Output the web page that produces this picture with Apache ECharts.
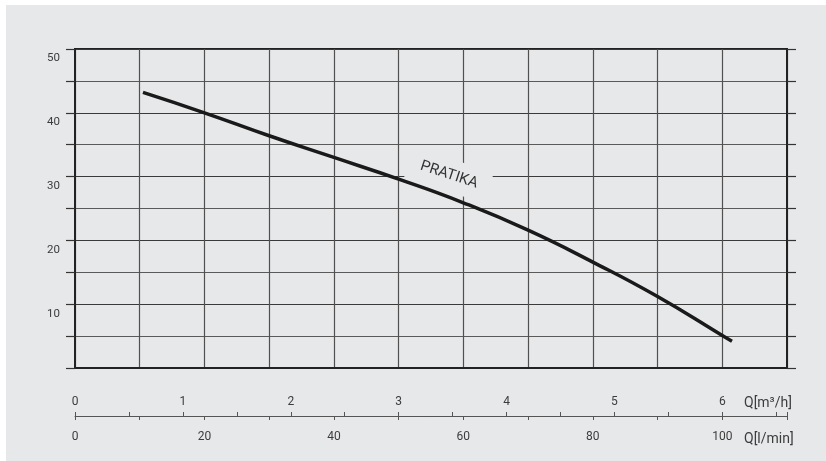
<!DOCTYPE html>
<html><head><meta charset="utf-8">
<script src="https://cdn.jsdelivr.net/npm/echarts@6/dist/echarts.min.js"></script>
<style>
html,body{margin:0;padding:0;background:#fff;width:826px;height:461px;overflow:hidden}
#c{position:absolute;left:6px;top:5px;width:820px;height:456px;background:#e7e8ea}
</style>
</head><body><div id="c"></div>
<script>
// Pump curve: flow (l/min) vs head (m)
const flowLmin = [10.5, 20, 30, 40, 50, 60, 70, 80, 90, 100, 101.5];
const headM    = [43.2, 40.0, 36.4, 33.0, 29.6, 25.9, 21.6, 16.6, 11.2, 5.1, 4.2];
const yTickLabels = [10, 20, 30, 40, 50];
const m3hLabels = [0, 1, 2, 3, 4, 5, 6];
const lminLabels = [0, 20, 40, 60, 80, 100];
const seriesName = 'PRATIKA';
const unitM3h = 'Q[m³/h]';
const unitLmin = 'Q[l/min]';
const LMIN_PER_M3H = 1000 / 60;
const X_MAX = 110;

const FONT = 'Roboto, "Noto Sans", sans-serif';
const BG = '#e7e8ea';
const TXT = '#3c3c3c';

const chart = echarts.init(document.getElementById('c'));
chart.setOption({
  animation: false,
  grid: { left: 69, right: 39, top: 44, bottom: 93, show: true, borderColor: '#222', borderWidth: 2 },
  xAxis: [
    { gridIndex: 0, type: 'value', min: 0, max: X_MAX, interval: 10, position: 'bottom',
      axisLine: { show: true, lineStyle: { color: '#222', width: 2 } },
      axisTick: { show: false }, axisLabel: { show: false },
      splitLine: { show: true, lineStyle: { color: '#505050', width: 1.2 } } },
    { gridIndex: 0, type: 'value', min: 0, max: X_MAX, interval: 10, position: 'bottom', offset: 48,
      axisLine: { show: true, onZero: false, lineStyle: { color: '#555', width: 1 } },
      axisTick: { show: true, length: 4, lineStyle: { color: '#555', width: 1 } },
      axisLabel: { show: true, margin: 15, fontSize: 12, color: TXT, fontFamily: FONT,
        formatter: v => lminLabels.includes(v) ? String(v) : '' },
      splitLine: { show: false } },
    { gridIndex: 0, type: 'value', min: 0, max: X_MAX / LMIN_PER_M3H, interval: 0.5, position: 'bottom', offset: 48,
      axisLine: { show: false, onZero: false },
      axisTick: { show: true, inside: true, length: 4, lineStyle: { color: '#555', width: 1 } },
      axisLabel: { show: true, inside: true, margin: 8, fontSize: 12, color: TXT, fontFamily: FONT,
        formatter: v => m3hLabels.includes(v) ? String(v) : '' },
      splitLine: { show: false } }
  ],
  yAxis: [
    { gridIndex: 0, type: 'value', min: 0, max: 50, interval: 5, position: 'left',
      axisLine: { show: true, onZero: false, lineStyle: { color: '#222', width: 2 } },
      axisTick: { show: true, length: 9, lineStyle: { color: '#333', width: 1.2 } },
      axisLabel: { show: true, margin: 15, fontSize: 11.5, color: TXT, fontFamily: FONT, verticalAlign: 'top',
        lineHeight: 19, formatter: v => yTickLabels.includes(v) ? String(v) : '' },
      splitLine: { show: true, lineStyle: { color: ['#3a3a3a', '#5a5a5a'], width: 1.2 } } },
    { gridIndex: 0, type: 'value', min: 0, max: 50, interval: 5, position: 'right',
      axisLine: { show: true, onZero: false, lineStyle: { color: '#222', width: 2 } },
      axisTick: { show: true, length: 9, lineStyle: { color: '#333', width: 1.2 } },
      axisLabel: { show: false }, splitLine: { show: false } }
  ],
  series: [{
    name: seriesName, type: 'line', xAxisIndex: 0, yAxisIndex: 0,
    data: flowLmin.map((x, i) => [x, headM[i]]),
    smooth: 0.5, showSymbol: false, symbol: 'none', z: 3,
    lineStyle: { color: '#1a1a1a', width: 3.5, cap: 'butt' }
  }],
  graphic: [
    { type: 'group', x: 443, y: 170, rotation: -18 * Math.PI / 180, children: [
      { type: 'rect', z: 1, shape: { x: -42, y: -16, width: 84, height: 32 }, style: { fill: BG } },
      { type: 'text', z: 1, style: { text: seriesName, x: 0, y: 0, align: 'center', verticalAlign: 'middle',
        textAlign: 'center', textVerticalAlign: 'middle', font: '15px ' + FONT, fill: '#333' } }
    ]},
    { type: 'text', z: 1, x: 738, y: 398, style: { text: unitM3h, verticalAlign: 'middle', textVerticalAlign: 'middle',
        font: '14px ' + FONT, fill: TXT } },
    { type: 'text', z: 1, x: 738, y: 434, style: { text: unitLmin, verticalAlign: 'middle', textVerticalAlign: 'middle',
        font: '14px ' + FONT, fill: TXT } }
  ]
});
</script>
</body></html>
